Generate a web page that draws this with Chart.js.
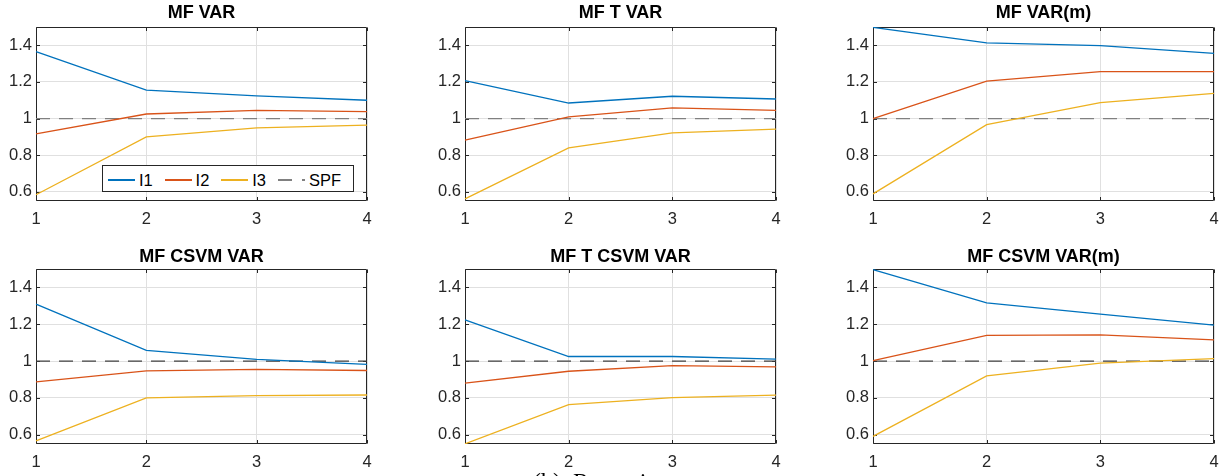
<!DOCTYPE html>
<html><head><meta charset="utf-8">
<script src="https://cdn.jsdelivr.net/npm/chart.js@4.4.1/dist/chart.umd.min.js"></script>
<style>
html,body{margin:0;padding:0;background:#fff;width:1227px;height:476px;overflow:hidden;position:relative;font-family:"Liberation Sans",Arial,sans-serif}
canvas{position:absolute}
#legend{position:absolute;left:102px;top:165px;width:252px;height:27px;box-sizing:border-box;border:1px solid #262626;background:#fff;display:flex;align-items:center;padding:3px 0 0 5px;font-size:16.5px;color:#000}
#legend .sw{width:29px;height:1.3px;margin-right:4px}
#legend .lb{margin-right:12px;line-height:1}
#caption{position:absolute;left:533px;top:469px;font-family:"Liberation Serif","Times New Roman",serif;font-size:24px;line-height:24px;white-space:nowrap;color:#000}
</style></head><body>
<div id="caption">(b)&nbsp;&nbsp;Recession</div>
<script>
const xLabels = ['1','2','3','4'];
const yTicks = [0.6, 0.8, 1, 1.2, 1.4];
const yTickLabels = ['0.6','0.8','1','1.2','1.4'];
const seriesNames = ['I1','I2','I3','SPF'];
const titles = ['MF VAR','MF T VAR','MF VAR(m)','MF CSVM VAR','MF T CSVM VAR','MF CSVM VAR(m)'];

const mfVar_I1 = [1.365, 1.155, 1.124, 1.100];
const mfVar_I2 = [0.916, 1.025, 1.045, 1.038];
const mfVar_I3 = [0.584, 0.900, 0.949, 0.964];
const mfTVar_I1 = [1.207, 1.085, 1.122, 1.107];
const mfTVar_I2 = [0.882, 1.009, 1.058, 1.045];
const mfTVar_I3 = [0.562, 0.840, 0.922, 0.942];
const mfVarM_I1 = [1.498, 1.413, 1.398, 1.356];
const mfVarM_I2 = [1.000, 1.205, 1.256, 1.256];
const mfVarM_I3 = [0.589, 0.967, 1.087, 1.138];
const mfCsvmVar_I1 = [1.309, 1.058, 1.009, 0.982];
const mfCsvmVar_I2 = [0.887, 0.947, 0.955, 0.949];
const mfCsvmVar_I3 = [0.567, 0.800, 0.813, 0.816];
const mfTCsvmVar_I1 = [1.224, 1.025, 1.025, 1.011];
const mfTCsvmVar_I2 = [0.880, 0.945, 0.976, 0.969];
const mfTCsvmVar_I3 = [0.551, 0.764, 0.802, 0.815];
const mfCsvmVarM_I1 = [1.496, 1.316, 1.255, 1.195];
const mfCsvmVarM_I2 = [1.002, 1.140, 1.142, 1.115];
const mfCsvmVarM_I3 = [0.591, 0.920, 0.989, 1.013];
const spf = [1, 1, 1, 1];

const seriesColors = ['#0072BD', '#D95319', '#EDB120'];
const FONT = '"Liberation Sans", Arial, sans-serif';

const panels = [
  {title: titles[0], series: [mfVar_I1, mfVar_I2, mfVar_I3, spf], left: 36, top: 27, w: 331, h: 174, tp: [2.2, 3.2], spfColor: '#808080'},
  {title: titles[1], series: [mfTVar_I1, mfTVar_I2, mfTVar_I3, spf], left: 465, top: 27, w: 311, h: 174, tp: [2.2, 3.2], spfColor: '#808080'},
  {title: titles[2], series: [mfVarM_I1, mfVarM_I2, mfVarM_I3, spf], left: 873, top: 27, w: 341, h: 174, tp: [2.2, 3.2], spfColor: '#808080'},
  {title: titles[3], series: [mfCsvmVar_I1, mfCsvmVar_I2, mfCsvmVar_I3, spf], left: 36, top: 269, w: 331, h: 175, tp: [4, 1.4], spfColor: '#404040'},
  {title: titles[4], series: [mfTCsvmVar_I1, mfTCsvmVar_I2, mfTCsvmVar_I3, spf], left: 465, top: 269, w: 311, h: 175, tp: [4, 1.4], spfColor: '#404040'},
  {title: titles[5], series: [mfCsvmVarM_I1, mfCsvmVarM_I2, mfCsvmVarM_I3, spf], left: 873, top: 269, w: 341, h: 175, tp: [4, 1.4], spfColor: '#404040'}
];

const boxPlugin = {
  id: 'matlabBox',
  beforeDatasetsDraw(chart) {
    const {ctx, chartArea: a, scales: {x, y}} = chart;
    const al = v => Math.round(v) + 0.5;
    ctx.save();
    ctx.strokeStyle = '#262626';
    ctx.lineWidth = 1;
    const L = al(a.left), R = al(a.right - 1), T = al(a.top), B = al(a.bottom - 1);
    ctx.beginPath();
    ctx.rect(L, T, R - L, B - T);
    const tl = 3.5;
    yTicks.forEach(v => {
      const py = al(y.getPixelForValue(v));
      ctx.moveTo(L, py); ctx.lineTo(L + tl, py);
      ctx.moveTo(R, py); ctx.lineTo(R - tl, py);
    });
    xLabels.forEach((lab, i) => {
      const px = al(x.getPixelForValue(i));
      ctx.moveTo(px, B); ctx.lineTo(px, B - tl);
      ctx.moveTo(px, T); ctx.lineTo(px, T + tl);
    });
    ctx.stroke();
    ctx.restore();
  }
};

const charts = [];
panels.forEach((p, idx) => {
  const cv = document.createElement('canvas');
  const M = 40;
  const W = p.w + 2 * M, H = 27 + p.h + 30;
  cv.width = W; cv.height = H;
  cv.style.width = W + 'px'; cv.style.height = H + 'px';
  cv.style.left = (p.left - M) + 'px';
  cv.style.top = (p.top - 27) + 'px';
  document.body.insertBefore(cv, document.getElementById('caption'));
  const datasets = p.series.map((d, i) => ({
    label: seriesNames[i],
    data: d,
    borderColor: i < 3 ? seriesColors[i] : p.spfColor,
    borderWidth: 1.3,
    borderDash: i === 3 ? [14, 9] : [],
    pointRadius: 0,
    tension: 0,
    fill: false,
    order: i === 3 ? 1 : 0
  }));
  charts.push(new Chart(cv, {
    type: 'line',
    data: {labels: xLabels, datasets},
    options: {
      responsive: false, animation: false, devicePixelRatio: 1,
      layout: {padding: {left: 0, right: M, top: 0, bottom: 0}},
      plugins: {
        legend: {display: false},
        tooltip: {enabled: false},
        title: {display: true, text: p.title, color: '#000', fullSize: false,
          font: {family: FONT, size: 18, weight: 'bold', lineHeight: 1.2},
          padding: {top: p.tp[0], bottom: p.tp[1]}}
      },
      scales: {
        x: {
          type: 'category', offset: false,
          grid: {color: '#e0e0e0', drawTicks: false},
          border: {display: false},
          ticks: {color: '#262626', font: {family: FONT, size: 16.5}, padding: 8.5, maxRotation: 0, autoSkip: false},
          afterFit(s) { s.height = 30; s.paddingLeft = 0; s.paddingRight = 0; }
        },
        y: {
          min: 0.55, max: 1.5,
          afterBuildTicks(s) { s.ticks = yTicks.map(v => ({value: v})); },
          grid: {color: '#e0e0e0', drawTicks: false},
          border: {display: false},
          ticks: {color: '#262626', font: {family: FONT, size: 16.5}, padding: 4,
            callback: (v, i) => yTickLabels[i]},
          afterFit(s) { s.width = M; s.paddingTop = 0; s.paddingBottom = 0; }
        }
      }
    },
    plugins: [boxPlugin]
  }));
});

// legend (inside first panel), built from the first chart's datasets
const lg = document.createElement('div');
lg.id = 'legend';
charts[0].data.datasets.forEach(ds => {
  const sw = document.createElement('span');
  sw.className = 'sw';
  if (ds.borderDash && ds.borderDash.length) {
    sw.style.background = 'repeating-linear-gradient(to right,' + ds.borderColor + ' 0 ' + ds.borderDash[0] + 'px, transparent ' + ds.borderDash[0] + 'px ' + (ds.borderDash[0] + 10) + 'px)';
  } else {
    sw.style.background = ds.borderColor;
  }
  const lb = document.createElement('span');
  lb.className = 'lb';
  lb.textContent = ds.label;
  lg.appendChild(sw); lg.appendChild(lb);
});
document.body.appendChild(lg);
</script>
</body></html>
